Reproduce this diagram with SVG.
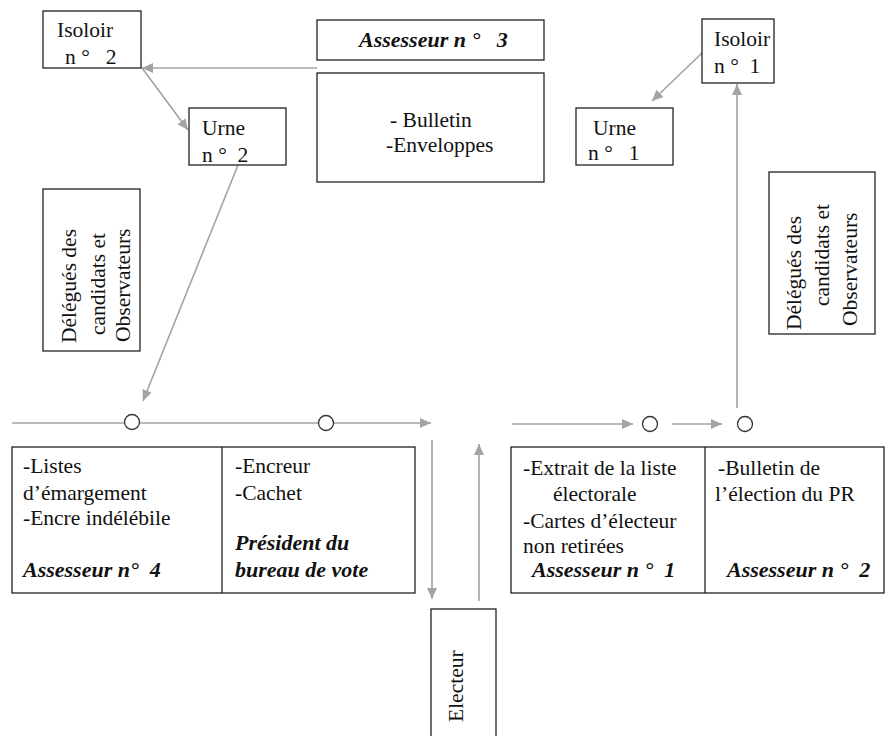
<svg xmlns="http://www.w3.org/2000/svg" width="885" height="736" viewBox="0 0 885 736" font-family="'Liberation Serif', 'Times New Roman', Times, serif">
<style>
.box{fill:#fff;stroke:#222;stroke-width:1.3}
.t{font-size:21.5px;fill:#111}
.bi{font-size:22px;font-weight:bold;font-style:italic;fill:#111}
.c{fill:none;stroke:#a3a3a3;stroke-width:1.6}
.dot{fill:#fff;stroke:#333;stroke-width:1.3}
</style>
<defs>
<marker id="ah" markerUnits="userSpaceOnUse" markerWidth="11" markerHeight="10" refX="11" refY="5" orient="auto">
<path d="M0,0 L11,5 L0,10 z" fill="#a3a3a3"/>
</marker>
</defs>
<rect width="885" height="736" fill="#fff"/>
<g id="connectors">
<line class="c" x1="317" y1="68" x2="142" y2="68" marker-end="url(#ah)"/>
<line class="c" x1="142" y1="68" x2="188" y2="130" marker-end="url(#ah)"/>
<line class="c" x1="238" y1="165" x2="143" y2="401" marker-end="url(#ah)"/>
<line class="c" x1="12" y1="423" x2="431" y2="423" marker-end="url(#ah)"/>
<line class="c" x1="432" y1="440" x2="432" y2="599" marker-end="url(#ah)"/>
<line class="c" x1="479" y1="601" x2="479" y2="444" marker-end="url(#ah)"/>
<line class="c" x1="512" y1="424" x2="633" y2="424" marker-end="url(#ah)"/>
<line class="c" x1="672" y1="424" x2="722" y2="424" marker-end="url(#ah)"/>
<line class="c" x1="737" y1="408" x2="737" y2="84" marker-end="url(#ah)"/>
<line class="c" x1="702" y1="53" x2="652" y2="101" marker-end="url(#ah)"/>
<circle class="dot" cx="132" cy="422" r="7.5"/>
<circle class="dot" cx="326" cy="423" r="7.5"/>
<circle class="dot" cx="650" cy="424" r="7.5"/>
<circle class="dot" cx="745" cy="424" r="7.5"/>
</g>
<g id="isoloir2">
<rect class="box" x="43" y="11" width="98" height="57"/>
<text class="t" x="57" y="37">Isoloir</text>
<text class="t" x="65" y="64" xml:space="preserve">n °   2</text>
</g>
<g id="urne2">
<rect class="box" x="189" y="108" width="97" height="57"/>
<text class="t" x="202" y="135">Urne</text>
<text class="t" x="202" y="162" xml:space="preserve">n °  2</text>
</g>
<g id="assesseur3">
<rect class="box" x="317" y="20" width="227" height="40"/>
<text class="bi" x="359" y="47" xml:space="preserve">Assesseur n °   3</text>
</g>
<g id="materiel3">
<rect class="box" x="317" y="73" width="227" height="109"/>
<text class="t" x="390" y="127">- Bulletin</text>
<text class="t" x="386" y="152">-Enveloppes</text>
</g>
<g id="isoloir1">
<rect class="box" x="702" y="19" width="72" height="64"/>
<text class="t" x="714" y="46">Isoloir</text>
<text class="t" x="714" y="73" xml:space="preserve">n °  1</text>
</g>
<g id="urne1">
<rect class="box" x="576" y="108" width="97" height="57"/>
<text class="t" x="593" y="135">Urne</text>
<text class="t" x="588" y="160" xml:space="preserve">n °   1</text>
</g>
<g id="delegues-gauche">
<rect class="box" x="43" y="189" width="97" height="162"/>
<text class="t" transform="translate(76,343) rotate(-90)">Délégués des</text>
<text class="t" transform="translate(105,335) rotate(-90)">candidats et</text>
<text class="t" transform="translate(130,342) rotate(-90)">Observateurs</text>
</g>
<g id="delegues-droite">
<rect class="box" x="769" y="172" width="106" height="162"/>
<text class="t" transform="translate(801,330) rotate(-90)">Délégués des</text>
<text class="t" transform="translate(829,306) rotate(-90)">candidats et</text>
<text class="t" transform="translate(857,326) rotate(-90)">Observateurs</text>
</g>
<g id="table-gauche">
<rect class="box" x="12" y="447" width="403" height="146"/>
<line x1="222" y1="447" x2="222" y2="593" stroke="#222" stroke-width="1.3"/>
<text class="t" x="23" y="473">-Listes</text>
<text class="t" x="23" y="500">d’émargement</text>
<text class="t" x="23" y="525">-Encre indélébile</text>
<text class="bi" x="23" y="577" xml:space="preserve">Assesseur n°  4</text>
<text class="t" x="235" y="473">-Encreur</text>
<text class="t" x="235" y="500">-Cachet</text>
<text class="bi" x="235" y="550">Président du</text>
<text class="bi" x="235" y="577">bureau de vote</text>
</g>
<g id="table-droite">
<rect class="box" x="511" y="447" width="373" height="146"/>
<line x1="705" y1="447" x2="705" y2="593" stroke="#222" stroke-width="1.3"/>
<text class="t" x="523" y="475">-Extrait de la liste</text>
<text class="t" x="553" y="501">électorale</text>
<text class="t" x="523" y="528">-Cartes d’électeur</text>
<text class="t" x="523" y="553">non retirées</text>
<text class="bi" x="532" y="577" xml:space="preserve">Assesseur n °  1</text>
<text class="t" x="718" y="475">-Bulletin de</text>
<text class="t" x="715" y="501">l’élection du PR</text>
<text class="bi" x="727" y="577" xml:space="preserve">Assesseur n °  2</text>
</g>
<g id="electeur">
<rect class="box" x="431" y="609" width="65" height="140"/>
<text class="t" transform="translate(463,722) rotate(-90)">Electeur</text>
</g>
</svg>
